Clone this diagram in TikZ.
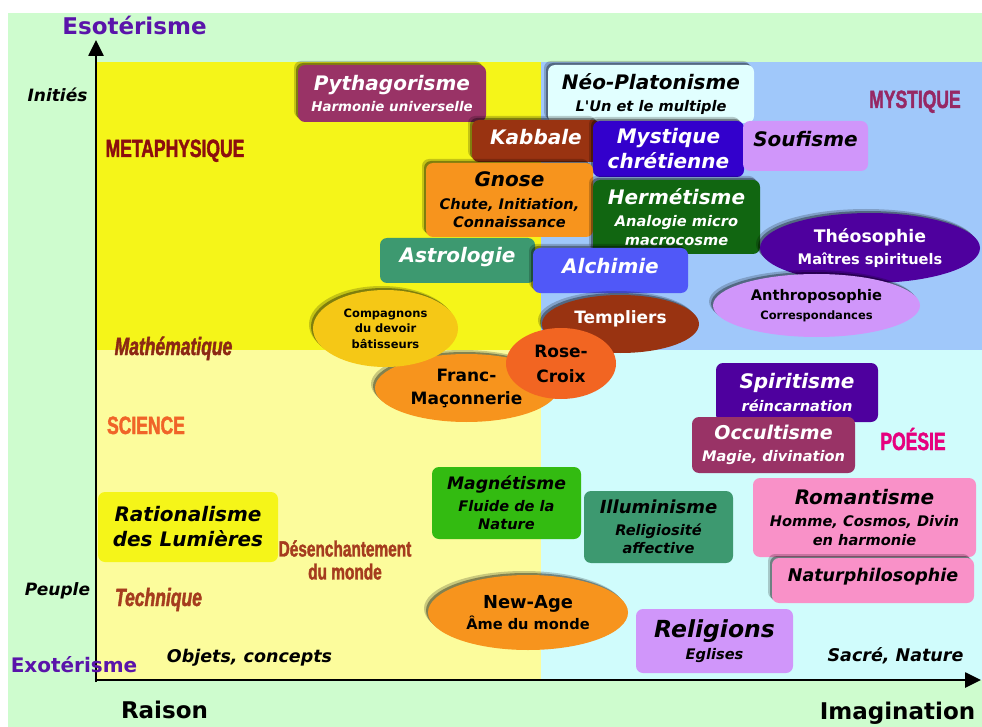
\documentclass[tikz,border=0pt]{standalone}
\usepackage{fontspec}
\usetikzlibrary{arrows.meta,shapes.geometric,shadows}
\setmainfont{DejaVu Sans}
\newfontfamily\verdfont{DejaVu Sans}[ItalicFont={* Oblique}, BoldFont={* Bold}, BoldItalicFont={* Bold Oblique}]
\newfontfamily\impfont{Liberation Sans}[FakeStretch=0.7, FakeBold=1.6]
\definecolor{pageGreen}{RGB}{206,252,206}
\definecolor{metaYellow}{RGB}{245,245,25}
\definecolor{mystBlue}{RGB}{160,200,250}
\definecolor{sciYellow}{RGB}{252,252,156}
\definecolor{poeCyan}{RGB}{208,252,252}
\definecolor{esoPurple}{RGB}{90,20,170}
\definecolor{plumColor}{RGB}{153,51,102}
\definecolor{paleCyan}{RGB}{225,255,255}
\definecolor{rustColor}{RGB}{153,51,17}
\definecolor{indigoColor}{RGB}{51,0,204}
\definecolor{lilacColor}{RGB}{208,150,250}
\definecolor{orangeColor}{RGB}{247,148,29}
\definecolor{forestColor}{RGB}{17,102,17}
\definecolor{violetColor}{RGB}{78,0,158}
\definecolor{tealColor}{RGB}{61,153,112}
\definecolor{azureColor}{RGB}{80,88,248}
\definecolor{goldColor}{RGB}{245,200,22}
\definecolor{flameColor}{RGB}{242,101,34}
\definecolor{grassColor}{RGB}{51,187,17}
\definecolor{pinkColor}{RGB}{249,145,200}
\definecolor{metaRed}{RGB}{140,14,14}
\definecolor{mystPlum}{RGB}{150,40,100}
\definecolor{mathBrown}{RGB}{140,40,20}
\definecolor{sciOrange}{RGB}{240,100,40}
\definecolor{techBrown}{RGB}{165,60,30}
\definecolor{poeMagenta}{RGB}{230,0,126}
\newcommand{\headsize}{\fontsize{20}{25}\selectfont}
\newcommand{\subsize}{\fontsize{14.6}{18.5}\selectfont}
\newcommand{\ovalsize}{\fontsize{17}{23}\selectfont}
\newcommand{\smallsize}{\fontsize{11.5}{15.5}\selectfont}
\newcommand{\labsize}{\fontsize{17.5}{21}\selectfont}
\newcommand{\axissize}{\fontsize{23}{27}\selectfont}
\newcommand{\tagsize}{\fontsize{25}{28}\selectfont}
\newcommand{\sz}[2]{\fontsize{#1}{#2}\selectfont}

\begin{document}
\begin{tikzpicture}[x=1pt, y=-1pt,
    box/.style={rectangle, rounded corners=7pt, inner sep=0pt, align=center},
    oval/.style={ellipse, inner sep=0pt, align=center},
    glow/.style={drop shadow={shadow xshift=-4pt, shadow yshift=4pt, opacity=.2, fill=black},
                 drop shadow={shadow xshift=-2pt, shadow yshift=2pt, opacity=.35, fill=black}},
    sub/.style={font=\verdfont\bfseries\itshape\subsize},
    head/.style={font=\verdfont\bfseries\itshape\headsize},
    plain/.style={font=\verdfont\bfseries\subsize},
    lab/.style={inner sep=0pt, anchor=base},
    tag/.style={inner sep=0pt, anchor=base, font=\impfont\bfseries\tagsize},
    axisline/.style={line width=2.6pt, -{Triangle[length=16pt, width=15pt]}}
  ]
  \useasboundingbox (0,0) rectangle (982,727);
  \fill[white] (0,0) rectangle (982,727);
  \fill[pageGreen] (8,13) rectangle (982,727);
  \fill[metaYellow] (97,62) rectangle (541,350);
  \fill[mystBlue] (541,62) rectangle (982,350);
  \fill[sciYellow] (97,350) rectangle (541,680);
  \fill[poeCyan] (541,350) rectangle (982,680);

  \coordinate (origin) at (96,682);
  \coordinate (ytip) at (96,40);
  \coordinate (xtip) at (981,680);
  \draw[axisline] (origin) -- (ytip);
  \draw[axisline] (94.7,680) -- (xtip);

  \node[lab, font=\verdfont\bfseries\axissize, text=esoPurple] (esot) at (134.5,35) {Esotérisme};
  \node[lab, font=\verdfont\bfseries\sz{20}{24}, text=esoPurple] (exot) at (74,672) {Exotérisme};
  \node[lab, font=\verdfont\bfseries\axissize] (raison) at (164.5,718) {Raison};
  \node[lab, font=\verdfont\bfseries\axissize] (imag) at (897.5,719) {Imagination};
  \node[lab, font=\verdfont\bfseries\itshape\sz{17}{20}] (inities) at (57.5,102) {Initiés};
  \node[lab, font=\verdfont\bfseries\itshape\sz{17}{20}] (peuple) at (57.5,595) {Peuple};
  \node[lab, font=\verdfont\bfseries\itshape\labsize] (objets) at (249.5,662) {Objets, concepts};
  \node[lab, font=\verdfont\bfseries\itshape\labsize] (sacre) at (895.5,661) {Sacré, Nature};

  \node[tag, text=metaRed] (metaph) at (175,157) {METAPHYSIQUE};
  \node[tag, text=mystPlum] (myst) at (915,108) {MYSTIQUE};
  \node[tag, text=mathBrown, font=\impfont\bfseries\itshape\tagsize] (math) at (173.5,355) {Mathématique};
  \node[tag, text=sciOrange] (science) at (146,434) {SCIENCE};
  \node[tag, text=techBrown, font=\impfont\bfseries\itshape\tagsize] (tech) at (158.5,606) {Technique};
  \node[tag, text=techBrown, anchor=center, align=center, font=\impfont\bfseries\sz{22}{23}] (desench) at (345,560) {Désenchantement\\du monde};
  \node[tag, text=poeMagenta] (poesie) at (913,450) {POÉSIE};

  \node[box, glow, fill=plumColor, text=white, sub, minimum width=188pt, minimum height=57pt] (pytha) at (392,93.5) {{\headsize Pythagorisme}\\[3pt]{\sz{13.4}{17}Harmonie universelle}};
  \node[box, glow, fill=paleCyan, sub, minimum width=206pt, minimum height=58pt] (neo) at (651,94) {{\headsize Néo-Platonisme}\\[4pt]L'Un et le multiple};
  \node[box, glow, fill=rustColor, text=white, head, text depth=8.6pt, minimum width=128pt, minimum height=42pt] (kabbale) at (536,141) {Kabbale};
  \node[box, glow, fill=indigoColor, text=white, head, minimum width=151pt, minimum height=56pt] (mystique) at (668.5,149) {Mystique\\chrétienne};
  \node[box, fill=lilacColor, head, text depth=14.6pt, minimum width=125pt, minimum height=50pt] (soufisme) at (805.5,146) {Soufisme};
  \node[box, glow, fill=orangeColor, sub, minimum width=167pt, minimum height=74pt] (gnose) at (509.5,200) {{\headsize Gnose}\\[4pt]Chute, Initiation,\\Connaissance};
  \node[box, glow, fill=forestColor, text=white, sub, minimum width=167pt, minimum height=74pt] (hermetisme) at (676.5,217) {{\headsize Hermétisme}\\[4pt]Analogie micro\\macrocosme};
  \node[oval, glow, fill=violetColor, text=white, plain, minimum width=220pt, minimum height=70pt] (theosophie) at (870,248) {{\sz{17.3}{20}Théosophie}\\[3pt]Maîtres spirituels};
  \node[box, fill=tealColor, text=white, head, text depth=11.6pt, minimum width=155pt, minimum height=45pt] (astrologie) at (457.5,260.5) {Astrologie};
  \node[box, glow, fill=azureColor, text=white, head, text depth=9.6pt, minimum width=155pt, minimum height=45pt] (alchimie) at (610.5,270.5) {Alchimie};
  \node[oval, glow, fill=lilacColor, plain, minimum width=207pt, minimum height=63pt] (anthropo) at (816.5,305.5) {Anthroposophie\\{\smallsize Correspondances}};
  \node[oval, glow, fill=orangeColor, font=\verdfont\bfseries\ovalsize, minimum width=183pt, minimum height=68pt] (franc) at (466.5,388) {Franc-\\Maçonnerie};
  \node[oval, glow, fill=goldColor, font=\verdfont\bfseries\smallsize, minimum width=145pt, minimum height=77pt] (compagnons) at (385.5,328.5) {Compagnons\\du devoir\\bâtisseurs};
  \node[oval, glow, fill=rustColor, text=white, font=\verdfont\bfseries\ovalsize, text depth=14.6pt, minimum width=157pt, minimum height=58pt] (templiers) at (620.5,324) {Templiers};
  \node[oval, fill=flameColor, font=\verdfont\bfseries\sz{17}{25}, minimum width=110pt, minimum height=71pt] (rosecroix) at (561,363.5) {Rose-\\Croix};
  \node[box, fill=violetColor, text=white, sub, minimum width=162pt, minimum height=59pt] (spiritisme) at (797,392.5) {{\headsize Spiritisme}\\[4pt]réincarnation};
  \node[box, fill=plumColor, text=white, sub, minimum width=163pt, minimum height=56pt] (occultisme) at (773.5,445) {{\sz{19}{23}Occultisme}\\[4pt]Magie, divination};
  \node[box, fill=grassColor, sub, minimum width=149pt, minimum height=72pt] (magnetisme) at (506.5,503) {{\sz{17.2}{21}Magnétisme}\\[3pt]Fluide de la\\Nature};
  \node[box, fill=tealColor, sub, minimum width=149pt, minimum height=72pt] (illuminisme) at (658.5,527) {{\sz{18}{22}Illuminisme}\\[3pt]Religiosité\\affective};
  \node[box, fill=pinkColor, sub, minimum width=223pt, minimum height=79pt] (romantisme) at (864.5,517.5) {{\headsize Romantisme}\\[4pt]Homme, Cosmos, Divin\\en harmonie};
  \node[box, glow, fill=pinkColor, font=\verdfont\bfseries\itshape\sz{17.5}{21}, text depth=11.7pt, minimum width=202pt, minimum height=45pt] (naturphilo) at (873,580.5) {Naturphilosophie};
  \node[box, fill=metaYellow, head, minimum width=180pt, minimum height=70pt] (rationalisme) at (188,527) {Rationalisme\\des Lumières};
  \node[oval, glow, fill=orangeColor, plain, minimum width=200pt, minimum height=75pt] (newage) at (528,612.5) {{\sz{17.9}{21}New-Age}\\[2pt]Âme du monde};
  \node[box, fill=lilacColor, sub, minimum width=157pt, minimum height=64pt] (religions) at (714.5,641) {{\sz{23.5}{28}Religions}\\[4pt]Eglises};
\end{tikzpicture}
\end{document}
